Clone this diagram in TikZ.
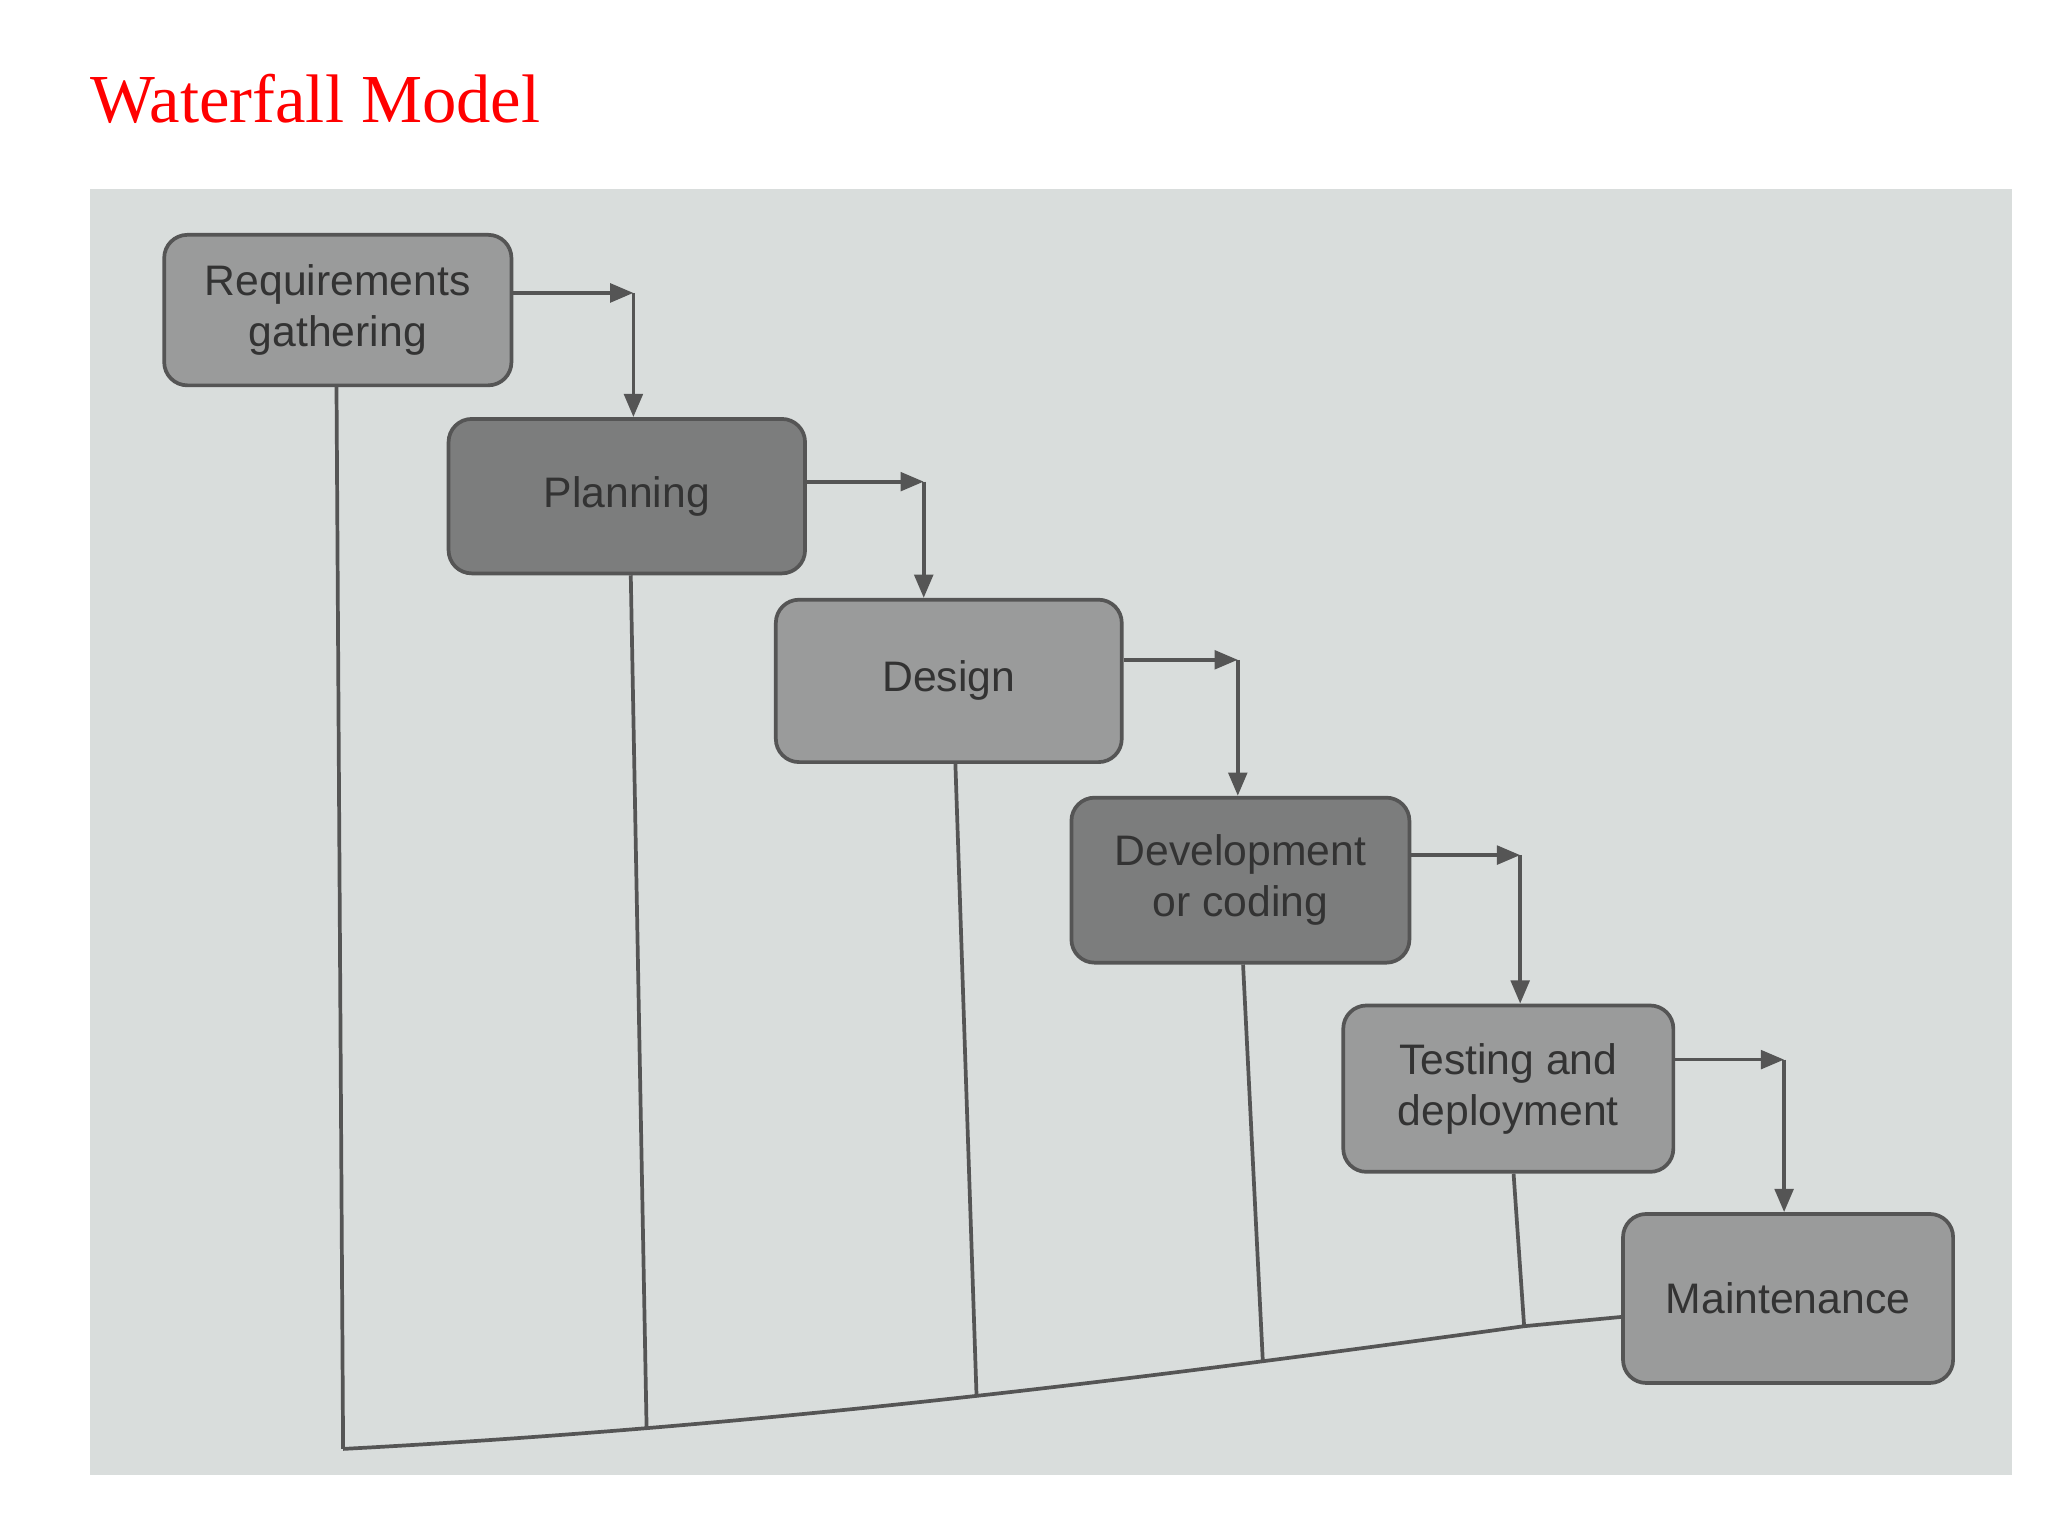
\documentclass[tikz,border=0pt]{standalone}
\usepackage{fontspec}
\setmainfont{Liberation Serif}
\newfontfamily\boxfont{Liberation Sans}
\usetikzlibrary{arrows.meta}
\definecolor{photo}{HTML}{D9DDDC}
\definecolor{lightbox}{HTML}{9A9B9B}
\definecolor{darkbox}{HTML}{7C7D7D}
\definecolor{linec}{HTML}{555555}
\begin{document}
\begin{tikzpicture}[x=0.01cm,y=-0.01cm,
  phase/.style={draw=linec,line width=0.8pt,rounded corners=5pt,font=\boxfont\fontsize{9.2}{11}\selectfont,text=black!80,align=center,inner sep=0pt},
  conn/.style={draw=linec,line width=0.8pt},
  arr/.style={conn,-{Triangle[length=5pt,width=4pt]}}]
\useasboundingbox (0,0) rectangle (1552,1164);
\fill[white] (0,0) rectangle (1552,1164);
\node[anchor=west,text=red,font=\fontsize{14.8}{17}\selectfont] (title) at (56,75) {Waterfall Model};
\fill[photo] (68,143) rectangle (1525,1118);
\node[phase,fill=lightbox,minimum height=1.14cm,minimum width=2.63cm] (req) at (256,235) {Requirements\\gathering};
\node[phase,fill=darkbox,minimum width=2.7cm,minimum height=1.17cm] (plan) at (475,376) {Planning};
\node[phase,fill=lightbox,minimum width=2.62cm,minimum height=1.23cm] (des) at (719,516) {Design};
\node[phase,fill=darkbox,minimum width=2.56cm,minimum height=1.25cm] (dev) at (940,667) {Development\\or coding};
\node[phase,fill=lightbox,minimum width=2.5cm,minimum height=1.26cm] (test) at (1143,825) {Testing and\\deployment};
\node[phase,fill=lightbox,minimum width=2.5cm,minimum height=1.28cm] (mai) at (1355,984) {Maintenance};
% forward arrows
\coordinate (c1) at (480,222); \draw[arr] (req.east |- c1) -- (c1); \draw[arr] (c1) -- (c1 |- plan.north);
\coordinate (c2) at (700,365); \draw[arr] (plan.east |- c2) -- (c2); \draw[arr] (c2) -- (c2 |- des.north);
\coordinate (c3) at (938,500); \draw[arr] (des.east |- c3) -- (c3); \draw[arr] (c3) -- (c3 |- dev.north);
\coordinate (c4) at (1152,648); \draw[arr] (dev.east |- c4) -- (c4); \draw[arr] (c4) -- (c4 |- test.north);
\coordinate (c5) at (1352,803); \draw[arr] (test.east |- c5) -- (c5); \draw[arr] (c5) -- (c5 |- mai.north);
% feedback lines
\coordinate (b1) at (260,1098); \coordinate (b2) at (490,1083); \coordinate (b3) at (740,1057);
\coordinate (b4) at (957,1032); \coordinate (b5) at (1155,1005); \coordinate (b6) at (1230,998);
\draw[conn] (req.south -| 255,0) -- (b1);
\draw[conn] (plan.south -| 478,0) -- (b2);
\draw[conn] (des.south -| 724,0) -- (b3);
\draw[conn] (dev.south -| 942,0) -- (b4);
\draw[conn] (test.south -| 1147,0) -- (b5);
\draw[conn] (b1) .. controls (600,1080) and (900,1040) .. (b5) -- (mai.west |- b6);
\end{tikzpicture}
\end{document}
